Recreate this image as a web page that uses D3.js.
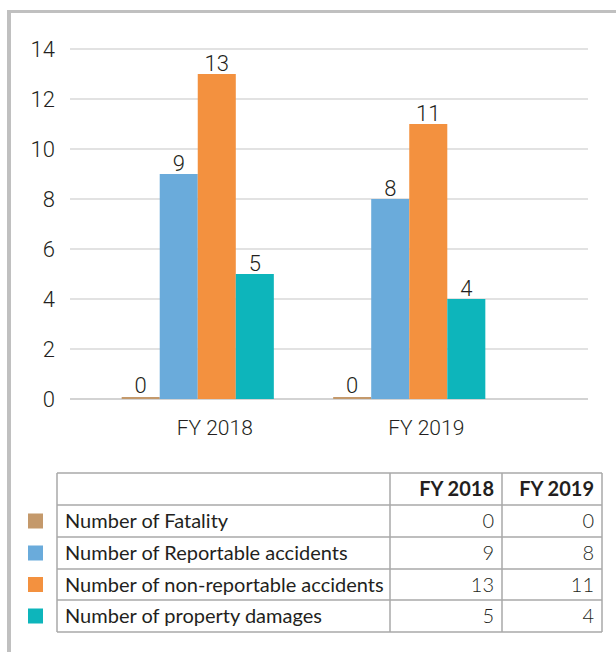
<!DOCTYPE html>
<html>
<head>
<meta charset="utf-8">
<script src="https://cdn.jsdelivr.net/npm/d3@7"></script>
<style>
  body { margin: 0; background: #fff; }
  svg { display: block; }
</style>
</head>
<body>
<script>
// chart data
var years = ["FY 2018", "FY 2019"];
var seriesNames = ["Number of Fatality", "Number of Reportable accidents",
                   "Number of non-reportable accidents", "Number of property damages"];
var fatality = [0, 0];
var reportable = [9, 8];
var nonReportable = [13, 11];
var propertyDamages = [5, 4];
var yTicks = [0, 2, 4, 6, 8, 10, 12, 14];
var colors = ["#c4996b", "#6aabdb", "#f3913f", "#0db5bb"];

var allSeries = [fatality, reportable, nonReportable, propertyDamages];

var width = 616, height = 652;

var svg = d3.select("body").append("svg")
  .attr("width", width)
  .attr("height", height);

// grey frame on top and left
svg.append("rect").attr("x", 7).attr("y", 10).attr("width", width).attr("height", 3).style("fill", "#c0c0c0");
svg.append("rect").attr("x", 7).attr("y", 10).attr("width", 4).attr("height", height).style("fill", "#c0c0c0");

var chartFont = "Roboto, 'Liberation Sans', sans-serif";

var yScale = d3.scaleLinear()
  .domain([0, 14])
  .range([399, 49]);

// groups
var x0 = d3.scaleBand()
  .domain(years)
  .range([92, 515]);

var x1 = d3.scaleBand()
  .domain(d3.range(seriesNames.length))
  .range([0, x0.bandwidth()])
  .paddingOuter(0.78);

// gridlines
svg.append("g").selectAll("line")
  .data(yTicks)
  .enter().append("line")
    .attr("x1", 70).attr("x2", 588)
    .attr("y1", function(d){ return yScale(d); })
    .attr("y2", function(d){ return yScale(d); })
    .style("stroke", function(d){ return d === 0 ? "#c4c4c4" : "#d9d9d9"; })
    .style("stroke-width", 1.5);

// y labels
svg.append("g").selectAll("text")
  .data(yTicks)
  .enter().append("text")
    .attr("x", 55)
    .attr("y", function(d){ return yScale(d); })
    .attr("dy", "0.36em")
    .attr("text-anchor", "end")
    .style("font-family", chartFont)
    .style("font-weight", 300)
    .style("font-size", "22px")
    .style("fill", "#231f20")
    .text(function(d){ return d; });

// bars
var groups = svg.append("g").selectAll("g")
  .data(years)
  .enter().append("g")
    .attr("transform", function(d){ return "translate(" + x0(d) + ",0)"; });

groups.selectAll("rect")
  .data(function(d, yi){
    return allSeries.map(function(s, si){ return {si: si, v: s[yi]}; });
  })
  .enter().append("rect")
    .attr("x", function(d){ return x1(d.si); })
    .attr("width", x1.bandwidth())
    .attr("y", function(d){ return d.v === 0 ? yScale(0) - 2 : yScale(d.v); })
    .attr("height", function(d){ return d.v === 0 ? 2 : yScale(0) - yScale(d.v); })
    .style("fill", function(d){ return colors[d.si]; });

groups.selectAll("text")
  .data(function(d, yi){
    return allSeries.map(function(s, si){ return {si: si, v: s[yi]}; });
  })
  .enter().append("text")
    .attr("x", function(d){ return x1(d.si) + x1.bandwidth() / 2; })
    .attr("y", function(d){ return yScale(d.v) - (d.v === 0 ? 6 : 3); })
    .attr("text-anchor", "middle")
    .style("font-family", chartFont)
    .style("font-weight", 300)
    .style("font-size", "22px")
    .style("fill", "#231f20")
    .text(function(d){ return d.v; });

// category labels
svg.append("g").selectAll("text")
  .data(years)
  .enter().append("text")
    .attr("x", function(d){ return x0(d) + x0.bandwidth() / 2 + 17; })
    .attr("y", 435)
    .attr("text-anchor", "middle")
    .style("font-family", chartFont)
    .style("font-weight", 300)
    .style("font-size", "21px")
    .style("fill", "#231f20")
    .text(function(d){ return d; });

// data table
var tableFont = "Lato, 'Open Sans', sans-serif";
var colEdges = [57, 390, 502, 602];
var rowEdges = [473, 505, 537, 569, 600, 632];
var borderColor = "#a8a8a8";

var table = svg.append("g");

table.selectAll("line.h")
  .data(rowEdges)
  .enter().append("line")
    .attr("class", "h")
    .attr("x1", colEdges[0]).attr("x2", colEdges[3])
    .attr("y1", function(d){ return d; }).attr("y2", function(d){ return d; })
    .style("stroke", borderColor).style("stroke-width", 1.5);

table.selectAll("line.v")
  .data(colEdges)
  .enter().append("line")
    .attr("class", "v")
    .attr("x1", function(d){ return d; }).attr("x2", function(d){ return d; })
    .attr("y1", rowEdges[0]).attr("y2", rowEdges[rowEdges.length - 1])
    .style("stroke", borderColor).style("stroke-width", 1.5);

// header
table.selectAll("text.hd")
  .data(years)
  .enter().append("text")
    .attr("class", "hd")
    .attr("x", function(d, i){ return colEdges[i + 2] - 8; })
    .attr("y", (rowEdges[0] + rowEdges[1]) / 2)
    .attr("dy", "0.36em")
    .attr("text-anchor", "end")
    .style("font-family", tableFont)
    .style("font-weight", 700)
    .style("font-size", "20px")
    .style("fill", "#231f20")
    .text(function(d){ return d; });

var rows = table.selectAll("g.row")
  .data(seriesNames)
  .enter().append("g")
    .attr("class", "row")
    .attr("transform", function(d, i){ return "translate(0," + (rowEdges[i + 1] + rowEdges[i + 2]) / 2 + ")"; });

rows.append("rect")
  .attr("x", 28).attr("y", -7.5)
  .attr("width", 15).attr("height", 15)
  .style("fill", function(d, i){ return colors[i]; });

rows.append("text")
  .attr("x", 65)
  .attr("dy", "0.36em")
  .style("font-family", tableFont)
  .style("font-weight", 400)
  .style("font-size", "20px")
  .style("fill", "#231f20")
  .text(function(d){ return d; });

rows.selectAll("text.val")
  .data(function(d, i){ return allSeries[i]; })
  .enter().append("text")
    .attr("class", "val")
    .attr("x", function(d, j){ return colEdges[j + 2] - 8; })
    .attr("dy", "0.36em")
    .attr("text-anchor", "end")
    .style("font-family", tableFont)
    .style("font-weight", 300)
    .style("font-size", "20px")
    .style("fill", "#231f20")
    .text(function(d){ return d; });
</script>
</body>
</html>
